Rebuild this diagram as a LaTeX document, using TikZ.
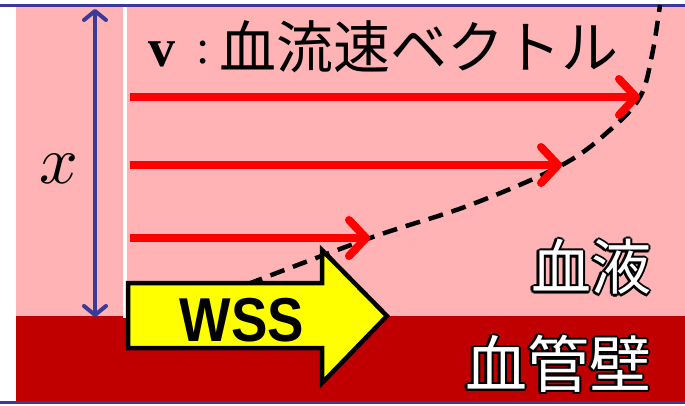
\documentclass[tikz,border=0pt]{standalone}
\usepackage{fontspec}
\usetikzlibrary{arrows.meta}
\newfontfamily\cjk{Noto Sans CJK JP}
\newfontfamily\wssfont{Liberation Sans}
\newfontfamily\serifb{Liberation Serif}
\definecolor{blood}{HTML}{FFB3B5}
\definecolor{wall}{HTML}{C00000}
\definecolor{navy}{HTML}{3A3A9A}
\definecolor{vred}{HTML}{FF0000}
\definecolor{wssyellow}{HTML}{FFFF00}
\newcommand{\outlined}[1]{%
  \tikz[baseline=(t.base)]{%
    \foreach \dx/\dy in {-2.2/0,2.2/0,0/-2.2,0/2.2,-1.6/-1.6,1.6/-1.6,-1.6/1.6,1.6/1.6}{%
      \node[inner sep=0pt,text=black] at (\dx pt,\dy pt) {#1};}
    \node[inner sep=0pt,text=white] (t) at (0,0) {#1};}}
\tikzset{
  velarrow/.style={draw=vred,line width=8pt,-{Straight Barb[round,length=17pt,width=36pt]}},
  heightarrow/.style={draw=navy,line width=4pt,{Straight Barb[round,length=9pt,width=22pt]}-{Straight Barb[round,length=9pt,width=22pt]}},
  profile/.style={draw=black,line width=4.5pt,dash pattern=on 15pt off 9pt},
  wssbox/.style={draw=black,line width=4.5pt,fill=wssyellow,line join=miter},
  jplabel/.style={inner sep=0pt,font=\cjk\fontsize{58}{60}\selectfont},
}
\begin{document}
\begin{tikzpicture}[x=1pt,y=-1pt]
\useasboundingbox (0,0) rectangle (685,405);
\fill[white] (0,0) rectangle (685,405);
% regions
\fill[blood] (16,6) rectangle (685,316);
\fill[wall] (16,316) rectangle (685,401);
\draw[navy,line width=3pt] (0,5) -- (685,5);
\draw[navy,line width=3pt] (0,402.5) -- (685,402.5);
% white wall line
\draw[white,line width=4pt] (125,7) -- (125,318);
% height arrow
\coordinate (htop) at (95,9);
\coordinate (hbot) at (95,317);
\draw[heightarrow] (hbot) -- (htop);
\node[inner sep=0pt] (xlab) at (59,169) {\scalebox{6.8}{$x$}};
% title
\node[inner sep=0pt,anchor=base west] (vlab) at (148,66) {\serifb\bfseries\fontsize{54}{54}\selectfont v};
\node[inner sep=0pt,anchor=base west] (colon) at (196,63) {\serifb\fontsize{48}{48}\selectfont :};
\node[jplabel,anchor=base west] (title) at (219,68) {\fontsize{57}{58}\selectfont 血流速ベクトル};
% velocity arrows
\coordinate (a1s) at (130,97);  \coordinate (a1e) at (640,97);
\coordinate (a2s) at (130,165); \coordinate (a2e) at (562,165);
\coordinate (a3s) at (130,238); \coordinate (a3e) at (370,238);
% profile
\draw[profile] plot[smooth,tension=0.6] coordinates {(248,284) (370,238) (470,205) (562,165) (610,130) (640,97) (652,55) (660,5)};
\draw[velarrow] (a1s) -- (a1e);
\draw[velarrow] (a2s) -- (a2e);
\draw[velarrow] (a3s) -- (a3e);
% WSS arrow
\draw[wssbox] (128,283) -- (322,283) -- (322,250) -- (387,316) -- (322,383) -- (322,348) -- (128,348) -- cycle;
\node[inner sep=0pt] (wss) at (242,320) {\wssfont\bfseries\fontsize{62}{62}\selectfont\scalebox{0.88}[1]{WSS}};
% labels
\node[inner sep=0pt] (blood) at (591,267) {\outlined{\cjk\fontsize{60}{60}\selectfont 血液}};
\node[inner sep=0pt] (wallab) at (558,364) {\outlined{\cjk\fontsize{62}{62}\selectfont 血管壁}};
\end{tikzpicture}
\end{document}
